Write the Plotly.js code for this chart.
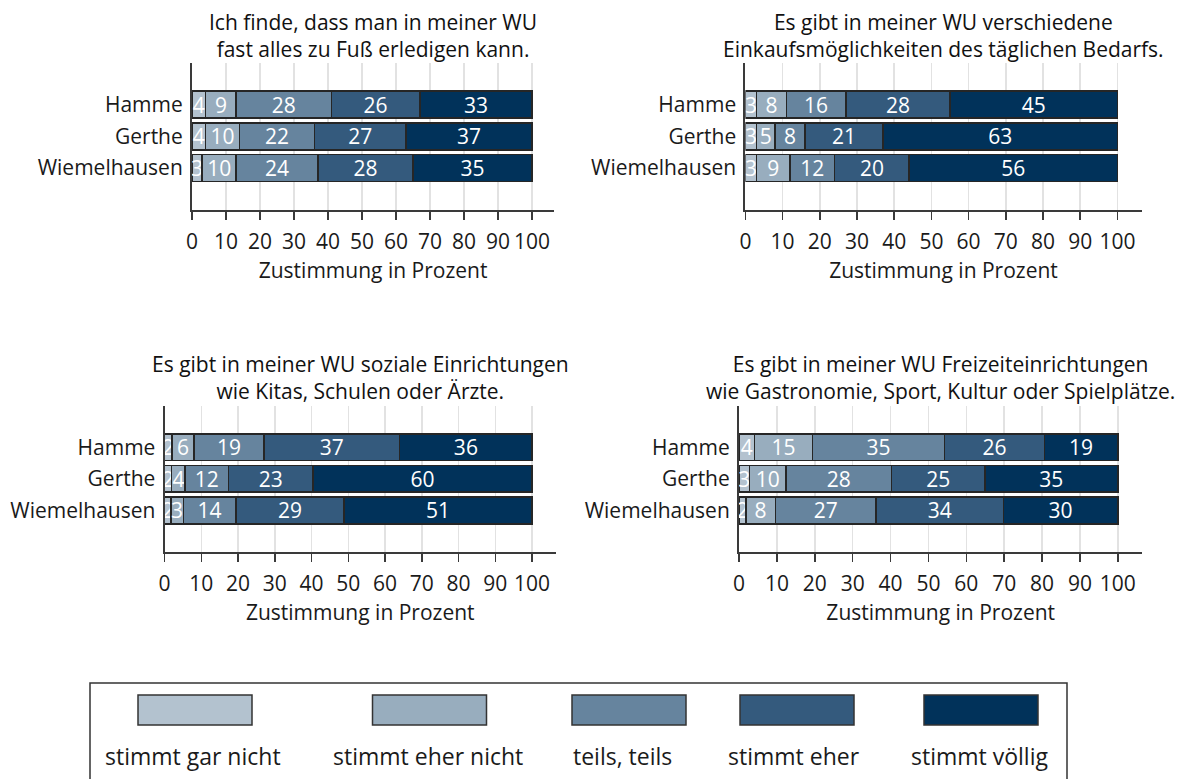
<!DOCTYPE html>
<html>
<head>
<meta charset="utf-8">
<script src="https://cdn.plot.ly/plotly-3.0.1.min.js"></script>
<style>html,body{margin:0;padding:0;background:#fff;}#chart{width:1187px;height:779px;}</style>
</head>
<body>
<div id="chart"></div>
<script>
// ---- data ----
const categories = ['stimmt gar nicht', 'stimmt eher nicht', 'teils, teils', 'stimmt eher', 'stimmt völlig'];
const districts = ['Hamme', 'Gerthe', 'Wiemelhausen'];
const tickValues = [0, 10, 20, 30, 40, 50, 60, 70, 80, 90, 100];
const axisTitle = 'Zustimmung in Prozent';

const titleFuss = ['Ich finde, dass man in meiner WU', 'fast alles zu Fuß erledigen kann.'];
const titleEinkauf = ['Es gibt in meiner WU verschiedene', 'Einkaufsmöglichkeiten des täglichen Bedarfs.'];
const titleSozial = ['Es gibt in meiner WU soziale Einrichtungen', 'wie Kitas, Schulen oder Ärzte.'];
const titleFreizeit = ['Es gibt in meiner WU Freizeiteinrichtungen', 'wie Gastronomie, Sport, Kultur oder Spielplätze.'];

// percentages per district, in the order of categories (labels are rounded)
const fussHamme = [4, 9, 28, 26, 33];
const fussGerthe = [4, 10, 22, 27, 37];
const fussWiemelhausen = [3, 10, 24, 28, 35];

const einkaufHamme = [3, 8, 16, 28, 45];
const einkaufGerthe = [3, 5, 8, 21, 63];
const einkaufWiemelhausen = [3, 9, 12, 20, 56];

const sozialHamme = [2, 6, 19, 37, 36];
const sozialGerthe = [1.9, 3.7, 11.8, 23.0, 59.6];
const sozialWiemelhausen = [1.7, 3.4, 14.3, 29.4, 51.2];

const freizeitHamme = [4.1, 15.3, 34.9, 26.3, 19.4];
const freizeitGerthe = [2.8, 9.6, 27.9, 24.6, 35.1];
const freizeitWiemelhausen = [1.8, 7.8, 26.6, 33.6, 30.2];

// ---- styling / layout config ----
const W = 1187, H = 779;
const colors = ['#b3c2cf', '#98adbe', '#66849e', '#345a7d', '#01325a'];
const FONT = 'Open Sans, Noto Sans, sans-serif';
const FS = 21;
const LEG_FS = 23;
const XMAX = 106.5;

const panels = [
  {title: titleFuss, rows: [fussHamme, fussGerthe, fussWiemelhausen], x0: 192, x100: 532, top: 63, bottom: 210, titleY: 35},
  {title: titleEinkauf, rows: [einkaufHamme, einkaufGerthe, einkaufWiemelhausen], x0: 745.4, x100: 1117.4, top: 63, bottom: 210, titleY: 35},
  {title: titleSozial, rows: [sozialHamme, sozialGerthe, sozialWiemelhausen], x0: 164.6, x100: 532, top: 406, bottom: 552, titleY: 377},
  {title: titleFreizeit, rows: [freizeitHamme, freizeitGerthe, freizeitWiemelhausen], x0: 739, x100: 1117.8, top: 406, bottom: 552, titleY: 377}
];

const px = v => v / W;
const py = v => 1 - v / H;

const traces = [];
const layout = {
  width: W, height: H,
  margin: {l: 0, r: 0, t: 0, b: 0},
  paper_bgcolor: '#ffffff', plot_bgcolor: '#ffffff',
  font: {family: FONT, size: FS, color: '#1a1a1a'},
  barmode: 'stack',
  bargap: 0.15,
  showlegend: false,
  uniformtext: {mode: 'show', minsize: FS},
  annotations: [],
  shapes: []
};

panels.forEach((p, i) => {
  const sfx = i === 0 ? '' : String(i + 1);
  const xEnd = p.x0 + (p.x100 - p.x0) * XMAX / 100;
  categories.forEach((cat, j) => {
    const vals = p.rows.map(r => r[j]);
    traces.push({
      type: 'bar', orientation: 'h',
      name: cat,
      y: districts, x: vals,
      texttemplate: '%{x:.0f}',
      textposition: 'inside', insidetextanchor: 'middle', textangle: 0,
      constraintext: 'none',
      textfont: {color: '#ffffff', size: FS, family: FONT},
      marker: {color: colors[j], line: {color: '#262626', width: 1.5}},
      xaxis: 'x' + sfx, yaxis: 'y' + sfx,
      hovertemplate: '%{y}: %{x:.0f}<extra>' + cat + '</extra>'
    });
  });
  layout['xaxis' + sfx] = {
    domain: [px(p.x0), px(xEnd)],
    anchor: 'y' + sfx,
    range: [0, XMAX],
    tickvals: tickValues,
    ticktext: tickValues.map(String),
    showgrid: true, gridcolor: '#e2e2e2', gridwidth: 1.5,
    zeroline: false,
    showline: true, linecolor: '#3a3a3a', linewidth: 2,
    ticks: 'outside', ticklen: 8, tickwidth: 1.5, tickcolor: '#3a3a3a',
    tickfont: {size: FS, color: '#1a1a1a'},
    ticklabelstandoff: 4,
    title: {text: axisTitle, font: {size: FS, color: '#1a1a1a'}, standoff: 9},
    fixedrange: true
  };
  layout['yaxis' + sfx] = {
    domain: [py(p.bottom), py(p.top)],
    anchor: 'x' + sfx,
    type: 'category',
    categoryarray: districts,
    range: [3.32, -1.31],
    showgrid: false, zeroline: false,
    showline: true, linecolor: '#3a3a3a', linewidth: 2,
    ticks: '',
    tickfont: {size: FS, color: '#1a1a1a'},
    ticklabelstandoff: 3,
    fixedrange: true
  };
  layout.annotations.push({
    xref: 'paper', yref: 'paper',
    x: px((p.x0 + xEnd) / 2), y: py(p.titleY),
    xanchor: 'center', yanchor: 'middle',
    text: p.title.join('<br>'), showarrow: false,
    font: {size: FS, color: '#111111'}
  });
});

// legend box (drawn by hand to match the wide swatches)
const legendCenters = [195, 429.5, 629, 797, 981];
const swatchW = 114;
layout.shapes.push({
  type: 'rect', xref: 'paper', yref: 'paper',
  x0: px(90), x1: px(1067), y0: -0.05, y1: py(683),
  line: {color: '#333333', width: 1.5}, fillcolor: 'rgba(0,0,0,0)'
});
categories.forEach((cat, j) => {
  const c = legendCenters[j];
  layout.shapes.push({
    type: 'rect', xref: 'paper', yref: 'paper',
    x0: px(c - swatchW / 2), x1: px(c + swatchW / 2), y0: py(725), y1: py(695),
    line: {color: '#333333', width: 1.5}, fillcolor: colors[j]
  });
  layout.annotations.push({
    xref: 'paper', yref: 'paper',
    x: px(c - (j === 2 ? 7 : j === 3 ? 3 : 2)), y: py(756),
    xanchor: 'center', yanchor: 'middle',
    text: cat, showarrow: false,
    font: {size: LEG_FS, color: '#1a1a1a'}
  });
});

Plotly.newPlot('chart', traces, layout, {displayModeBar: false, staticPlot: true});
</script>
</body>
</html>
